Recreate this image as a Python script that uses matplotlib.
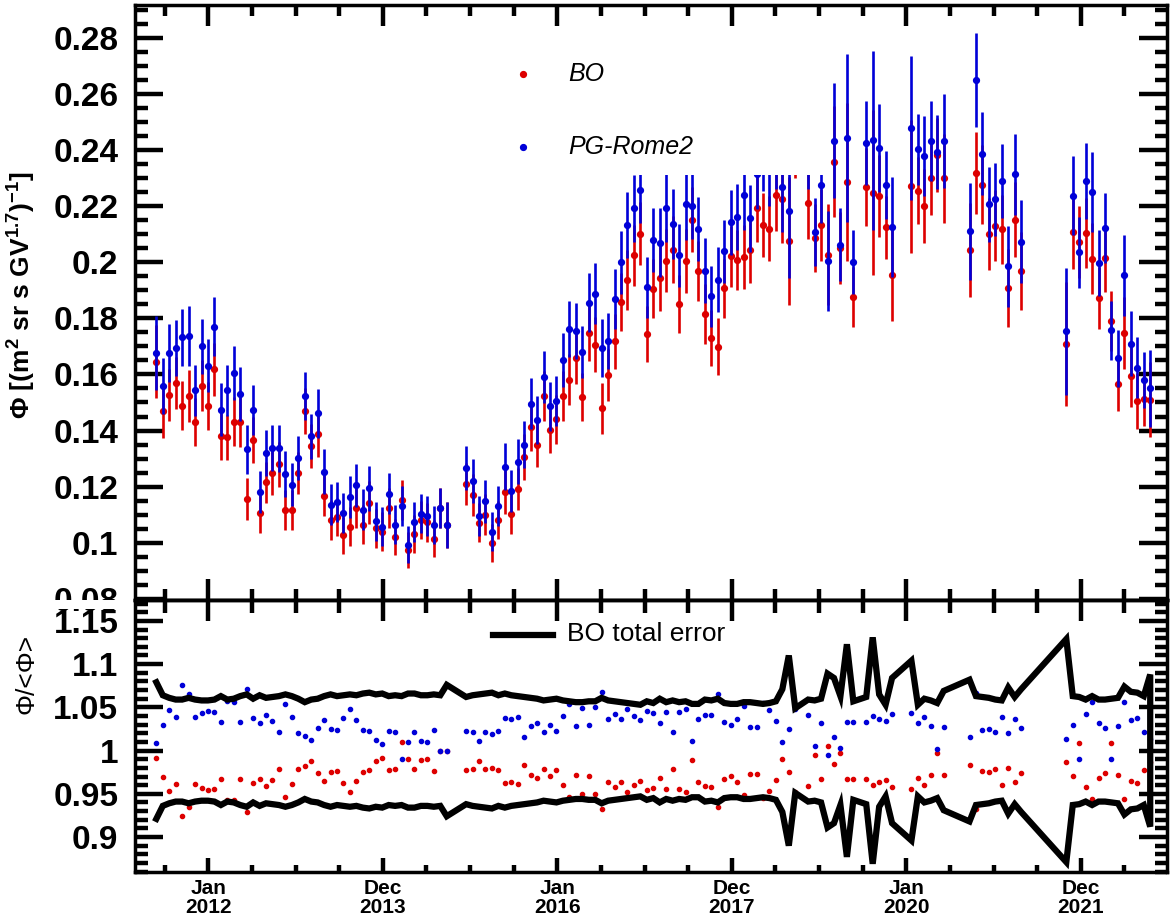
import numpy as np
import matplotlib
matplotlib.use('Agg')
import matplotlib.pyplot as plt
from matplotlib.patches import Rectangle
from matplotlib.ticker import FixedLocator, NullFormatter, FuncFormatter, MultipleLocator

plt.rcParams['font.family'] = ['Liberation Sans', 'DejaVu Sans']
plt.rcParams['mathtext.fontset'] = 'custom'
plt.rcParams['mathtext.rm'] = 'Liberation Sans'
plt.rcParams['mathtext.bf'] = 'Liberation Sans:bold'
plt.rcParams['mathtext.it'] = 'Liberation Sans:italic'
plt.rcParams['mathtext.default'] = 'bf'

# Bartels rotations with data (gaps where there is no point)
rotations = (list(range(2426, 2472)) + list(range(2474, 2526)) + list(range(2527, 2535))
             + list(range(2536, 2541)) + list(range(2543, 2549)) + list(range(2552, 2561))
             + list(range(2567, 2581)))

# BO flux (red)
bo_flux = [
    0.1646, 0.1469, 0.1526, 0.1569, 0.1489, 0.1523, 0.1430, 0.1560, 0.1488, 0.1618,
    0.1382, 0.1376, 0.1432, 0.1432, 0.1157, 0.1368, 0.1106, 0.1215, 0.1249, 0.1280,
    0.1117, 0.1117, 0.1248, 0.1471, 0.1345, 0.1389, 0.1168, 0.1081, 0.1092, 0.1026,
    0.1058, 0.1123, 0.1065, 0.1142, 0.1051, 0.1040, 0.1123, 0.1021, 0.1152, 0.0974,
    0.1030, 0.1081, 0.1073, 0.1014, 0.1124, 0.1063,
    0.1210, 0.1169, 0.1071, 0.1100,
    0.1000, 0.1081, 0.1180, 0.1102, 0.1192, 0.1306, 0.1414, 0.1350, 0.1523, 0.1402,
    0.1440, 0.1524, 0.1581, 0.1658, 0.1521, 0.1748, 0.1706, 0.1479, 0.1598, 0.1719,
    0.1858, 0.1936, 0.2024, 0.2102, 0.1744, 0.1905, 0.1942, 0.2005, 0.2045, 0.1850,
    0.2005, 0.2152, 0.1969, 0.1814, 0.1729, 0.1699, 0.1907, 0.2021, 0.2008, 0.2019,
    0.2042, 0.2194, 0.2132, 0.2120, 0.2239, 0.2226, 0.2075, 0.2417,
    0.2212, 0.2088, 0.2132, 0.2027, 0.2358, 0.2051, 0.2287, 0.1876,
    0.2268, 0.2248, 0.2237, 0.2125, 0.1955,
    0.2270, 0.2254, 0.2200, 0.2300, 0.2383, 0.2300,
    0.2044, 0.2317, 0.2277, 0.2100, 0.2130, 0.2117, 0.1907, 0.2151, 0.1968,
    0.1708, 0.2107, 0.2073, 0.2105, 0.2012, 0.1873, 0.2014, 0.1790, 0.1567, 0.1748,
    0.1594, 0.1506, 0.1513, 0.1510,
]

# PG-Rome2 flux (blue)
pg_flux = [
    0.1676, 0.1560, 0.1676, 0.1694, 0.1732, 0.1737, 0.1544, 0.1700, 0.1631, 0.1770,
    0.1475, 0.1544, 0.1604, 0.1530, 0.1333, 0.1474, 0.1180, 0.1320, 0.1338, 0.1337,
    0.1245, 0.1207, 0.1301, 0.1523, 0.1379, 0.1462, 0.1254, 0.1136, 0.1146, 0.1106,
    0.1164, 0.1205, 0.1118, 0.1194, 0.1076, 0.1057, 0.1175, 0.1065, 0.1130, 0.0993,
    0.1074, 0.1104, 0.1095, 0.1063, 0.1124, 0.1063,
    0.1267, 0.1219, 0.1096, 0.1148,
    0.1040, 0.1131, 0.1271, 0.1185, 0.1289, 0.1349, 0.1496, 0.1438, 0.1590, 0.1486,
    0.1505, 0.1652, 0.1762, 0.1755, 0.1680, 0.1856, 0.1888, 0.1695, 0.1718, 0.1869,
    0.2000, 0.2132, 0.2192, 0.2258, 0.1911, 0.2079, 0.2070, 0.2194, 0.2136, 0.2024,
    0.2206, 0.2200, 0.2118, 0.1970, 0.1879, 0.1938, 0.2039, 0.2143, 0.2162, 0.2240,
    0.2156, 0.2316, 0.2382, 0.2330, 0.2397, 0.2269, 0.2183, 0.2659,
    0.2401, 0.2108, 0.2275, 0.2005, 0.2433, 0.2063, 0.2443, 0.2002,
    0.2424, 0.2435, 0.2408, 0.2276, 0.2126,
    0.2479, 0.2402, 0.2380, 0.2432, 0.2394, 0.2431,
    0.2111, 0.2650, 0.2386, 0.2206, 0.2224, 0.2290, 0.1985, 0.2313, 0.2073,
    0.1754, 0.2237, 0.2035, 0.2290, 0.2251, 0.1998, 0.2123, 0.1757, 0.1657, 0.1954,
    0.1710, 0.1624, 0.1581, 0.1550,
]

# BO relative total error
bo_relerr = [
    0.079, 0.064, 0.061, 0.059, 0.059, 0.061, 0.059, 0.058, 0.058, 0.059,
    0.063, 0.059, 0.060, 0.063, 0.065, 0.060, 0.064, 0.061, 0.062, 0.063,
    0.065, 0.063, 0.060, 0.056, 0.059, 0.060, 0.063, 0.065, 0.063, 0.064,
    0.065, 0.064, 0.066, 0.067, 0.065, 0.066, 0.063, 0.064, 0.063, 0.066,
    0.066, 0.064, 0.064, 0.065, 0.064, 0.076,
    0.062, 0.064, 0.065, 0.066,
    0.067, 0.064, 0.066, 0.064, 0.063, 0.062, 0.061, 0.060, 0.058, 0.059,
    0.060, 0.058, 0.057, 0.056, 0.056, 0.057, 0.057, 0.061, 0.058, 0.057,
    0.056, 0.055, 0.054, 0.053, 0.057, 0.055, 0.060, 0.056, 0.058, 0.056,
    0.057, 0.054, 0.054, 0.059, 0.058, 0.060, 0.055, 0.054, 0.054, 0.056,
    0.056, 0.055, 0.054, 0.055, 0.057, 0.071, 0.110, 0.049,
    0.059, 0.058, 0.060, 0.089, 0.084, 0.063, 0.123, 0.057,
    0.062, 0.131, 0.065, 0.053, 0.084,
    0.104, 0.053, 0.060, 0.058, 0.055, 0.069,
    0.082, 0.063, 0.062, 0.061, 0.059, 0.058, 0.073, 0.062, 0.071,
    0.129, 0.063, 0.062, 0.059, 0.063, 0.059, 0.059, 0.060, 0.061, 0.074,
    0.068, 0.067, 0.063, 0.088,
]

tick_text = ["Jan\n2012", "Dec\n2013", "Jan\n2016", "Dec\n2017", "Jan\n2020", "Dec\n2021"]

RED = "#dd0000"
BLUE = "#0000d8"

# Bartels rotation centre (BR 1 began 1832-02-08) -> decimal year
rot = np.array(rotations)
start = np.datetime64("1832-02-08") + (27 * (rot - 1)).astype("timedelta64[D]")
days = (start - np.datetime64("2012-01-01")).astype(float) + 13.5
x = 2012.0 + days / 365.25

bo = np.array(bo_flux)
pg = np.array(pg_flux)
err = np.array(bo_relerr)
avg = 0.5 * (bo + pg)

fig = plt.figure(figsize=(11.7, 9.18), dpi=100)
ax1 = fig.add_axes([0.1154, 0.3464, 0.8821, 0.6482])
ax2 = fig.add_axes([0.1154, 0.0501, 0.8821, 0.2963])

XMIN, XMAX = 2011.1604, 2022.9817
major_x = [2012.0 + i * 730 / 365.25 for i in range(6)]
minor_x = [2012.0 + i * 182.5 / 365.25 for i in range(-2, 23)]
gfmt = FuncFormatter(lambda v, p: "%g" % round(v, 3))

# ---- top panel: fluxes
ax1.errorbar(x, bo, yerr=bo * err, fmt="o", color=RED, ms=4.2, elinewidth=1.9,
             capsize=0, zorder=3)
ax1.errorbar(x, pg, yerr=pg * err, fmt="o", color=BLUE, ms=4.2, elinewidth=1.9,
             capsize=0, zorder=4)
ax1.set_xlim(XMIN, XMAX)
ax1.set_ylim(0.0796, 0.2917)
ax1.yaxis.set_major_locator(MultipleLocator(0.02))
ax1.yaxis.set_minor_locator(MultipleLocator(0.005))
ax1.yaxis.set_major_formatter(gfmt)
ax1.xaxis.set_major_locator(FixedLocator(major_x))
ax1.xaxis.set_minor_locator(FixedLocator(minor_x))
ax1.xaxis.set_major_formatter(NullFormatter())
ax1.tick_params(axis="y", which="major", direction="in", left=True, right=True,
                length=20, width=3.2, labelsize=24, pad=12)
ax1.tick_params(axis="y", which="minor", direction="in", left=True, right=True,
                length=9, width=3.2)
ax1.tick_params(axis="x", which="major", direction="in", top=True, bottom=True,
                length=15, width=3.2)
ax1.tick_params(axis="x", which="minor", direction="in", top=True, bottom=True,
                length=8, width=3.2)
for t in ax1.get_yticklabels():
    t.set_fontweight("bold")
ax1.set_ylabel(r"$\Phi$ [(m$^{2}$ sr s GV$^{1.7}$)$^{-1}$]", fontsize=19, fontweight="bold")
ax1.yaxis.set_label_coords(-0.094, 0.513)

# legend (white box hides what lies behind it)
ax1.add_patch(Rectangle((0.344, 0.714), 0.3275, 0.23, transform=ax1.transAxes,
                        facecolor="white", edgecolor="none", zorder=5))
ax1.plot([0.376], [0.884], "o", color=RED, ms=4.2, transform=ax1.transAxes, zorder=6)
ax1.plot([0.376], [0.761], "o", color=BLUE, ms=4.2, transform=ax1.transAxes, zorder=6)
ax1.text(0.4196, 0.884, "BO", style="italic", fontsize=18, va="center",
         transform=ax1.transAxes, zorder=6)
ax1.text(0.4196, 0.761, "PG-Rome2", style="italic", fontsize=18, va="center",
         transform=ax1.transAxes, zorder=6)

# ---- bottom panel: ratio to mean
ax2.plot(x, bo / avg, "o", color=RED, ms=3, zorder=3)
ax2.plot(x, pg / avg, "o", color=BLUE, ms=3, zorder=3)
band_x = np.concatenate([x, x[::-1]])
band_y = np.concatenate([1 + err, (1 - err)[::-1]])
ax2.plot(band_x, band_y, color="black", lw=4.5, solid_joinstyle="miter", zorder=4)
ax2.plot([0.347, 0.405], [0.871, 0.871], color="black", lw=4.5,
         transform=ax2.transAxes, zorder=5)
ax2.text(0.4186, 0.874, "BO total error", fontsize=19, va="center",
         transform=ax2.transAxes, zorder=5)

ax2.set_xlim(XMIN, XMAX)
ax2.set_ylim(0.8595, 1.1742)
ax2.yaxis.set_major_locator(MultipleLocator(0.05))
ax2.yaxis.set_minor_locator(MultipleLocator(0.01))
ax2.yaxis.set_major_formatter(gfmt)
ax2.xaxis.set_major_locator(FixedLocator(major_x))
ax2.xaxis.set_minor_locator(FixedLocator(minor_x))
ax2.set_xticklabels(tick_text, fontsize=15, fontweight="bold", linespacing=1.0)
ax2.tick_params(axis="y", which="major", direction="in", left=True, right=True,
                length=20, width=3.2, labelsize=24, pad=12)
ax2.tick_params(axis="y", which="minor", direction="in", left=True, right=True,
                length=9, width=3.2)
ax2.tick_params(axis="x", which="major", direction="in", top=False, bottom=True,
                length=10, width=3.2, pad=5)
ax2.tick_params(axis="x", which="minor", direction="in", top=False, bottom=True,
                length=5, width=3.2)
for t in ax2.get_yticklabels():
    t.set_fontweight("bold")
sec = ax2.secondary_xaxis("top")
sec.xaxis.set_major_locator(FixedLocator(major_x))
sec.xaxis.set_minor_locator(FixedLocator(minor_x))
sec.xaxis.set_major_formatter(NullFormatter())
sec.tick_params(which="major", direction="in", length=15, width=3.2)
sec.tick_params(which="minor", direction="in", length=9, width=3.2)
sec.spines["top"].set_linewidth(2.5)

ax2.set_ylabel("Φ/<Φ>", fontsize=19)
ax2.yaxis.set_label_coords(-0.094, 0.73)

for ax in (ax1, ax2):
    for s in ax.spines.values():
        s.set_linewidth(2.5)

# the lowest label of the upper pad is cut by the pad border
fig.add_artist(Rectangle((0.0, 0.3366), 0.11, 0.0098, transform=fig.transFigure,
                         facecolor="white", edgecolor="none", zorder=10))

fig.savefig("out.png", dpi=100)
